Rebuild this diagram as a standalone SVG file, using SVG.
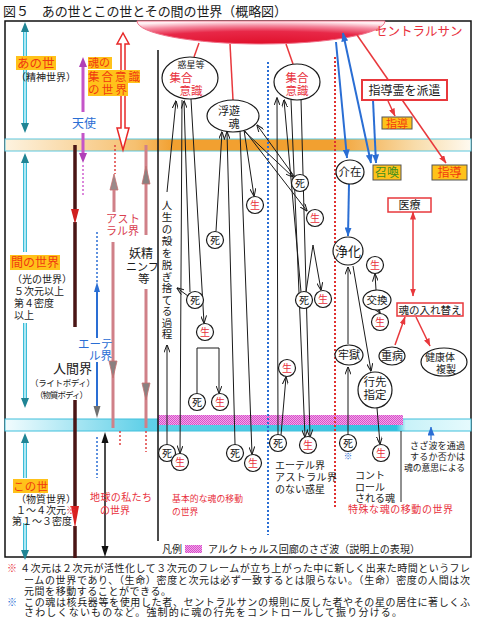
<svg xmlns="http://www.w3.org/2000/svg" width="480" height="618" viewBox="0 0 480 618">
<defs>
<style>
text{font-family:"Noto Sans CJK JP","Noto Sans CJK SC",sans-serif;fill:#1a1a1a}
.lbl{fill:#f03a10}
.hl{fill:#ffc21a}
.red{fill:#e8303c}
.blu{fill:#2a6ed4}
.c{text-anchor:middle}
.ln{stroke:#1a1a1a;stroke-width:1;fill:none}
.rl{stroke:#e8383c;stroke-width:1.5;fill:none}
.bl{stroke:#2a6ed4;stroke-width:2;fill:none}
.nd{fill:#fff;stroke:#1a1a1a;stroke-width:1.2}
.rb{fill:#fff;stroke:#e8383c;stroke-width:2}
.yb{fill:#ffc21a;stroke:#555;stroke-width:1}
.rdot{stroke:#e03030;stroke-width:2;stroke-dasharray:2 2;fill:none}
.bdot{stroke:#2a6ed4;stroke-width:2;stroke-dasharray:2 2;fill:none}
</style>
<radialGradient id="sunG" cx="0.5" cy="1" r="1" fx="0.5" fy="1">
<stop offset="0" stop-color="#e0102a"/>
<stop offset="0.55" stop-color="#e82848"/>
<stop offset="0.8" stop-color="#f48aa0"/>
<stop offset="1" stop-color="#fff0f3"/>
</radialGradient>
<linearGradient id="orG" x1="0" y1="0" x2="1" y2="0">
<stop offset="0" stop-color="#fdf3e0"/>
<stop offset="0.28" stop-color="#f6c070"/>
<stop offset="0.36" stop-color="#f2a030"/>
<stop offset="0.7" stop-color="#f2a030"/>
<stop offset="0.88" stop-color="#f8dcaa"/>
<stop offset="1" stop-color="#fffaf0"/>
</linearGradient>
<linearGradient id="cyG" x1="0" y1="0" x2="1" y2="0">
<stop offset="0" stop-color="#f2fcfe"/>
<stop offset="0.3" stop-color="#60d0e8"/>
<stop offset="0.84" stop-color="#30c0e0"/>
<stop offset="0.86" stop-color="#c8f2f8"/>
<stop offset="1" stop-color="#e6fafd"/>
</linearGradient>
<pattern id="chk" width="2" height="2" patternUnits="userSpaceOnUse">
<rect width="2" height="2" fill="#f3a6ea"/>
<rect width="1" height="1" fill="#d64fc8"/>
<rect x="1" y="1" width="1" height="1" fill="#d64fc8"/>
</pattern>
<marker id="ah" viewBox="0 0 8 6" refX="7.5" refY="3" markerWidth="8" markerHeight="6" markerUnits="userSpaceOnUse" orient="auto-start-reverse">
<path d="M0,0 L8,3 L0,6" fill="none" stroke="#1a1a1a" stroke-width="1"/>
</marker>
<marker id="rh" viewBox="0 0 8 6" refX="7.5" refY="3" markerWidth="8" markerHeight="6" markerUnits="userSpaceOnUse" orient="auto-start-reverse">
<path d="M0,0 L8,3 L0,6 Z" fill="#e8383c"/>
</marker>
<marker id="bh" viewBox="0 0 9 7" refX="8.5" refY="3.5" markerWidth="9" markerHeight="7" markerUnits="userSpaceOnUse" orient="auto-start-reverse">
<path d="M0,0 L9,3.5 L0,7 Z" fill="#2a6ed4"/>
</marker>
</defs>

<rect width="480" height="618" fill="#fff"/>

<text x="3" y="16" font-size="13" textLength="284">図５　あの世とこの世とその間の世界（概略図）</text>

<rect id="frame" x="5" y="21" width="466" height="536" fill="none" stroke="#111" stroke-width="1.5"/>

<g id="bands">
<rect x="5" y="139" width="466" height="12" fill="url(#orG)" stroke="#5cc8e0" stroke-width="1"/>
<rect x="5" y="419" width="466" height="12" fill="url(#cyG)" stroke="#40c0dc" stroke-width="1"/>
<rect x="158" y="415" width="245" height="10" fill="url(#chk)"/>
</g>

<g id="central-sun">
<path d="M137,21 A124,23 0 0 0 385,21 Z" fill="url(#sunG)" stroke="#f07088" stroke-width="1"/>
<text x="375" y="36" font-size="12.5" class="red">セントラルサン</text>
</g>

<g id="dividers">
<path d="M158,50 V541" stroke="#111" stroke-width="1.5"/>
<path d="M268,62 V535" class="bdot"/>
<path d="M335,57 V508" class="rdot"/>
<path d="M401,431 V502" stroke="#222" stroke-width="1"/>
</g>

<g id="left-arrows">
<path d="M25,30 V124 M25,163 V252 M25,323 V398 M25,443 V478 M25,523 V550" stroke="#3cbcd8" stroke-width="4"/>
<path d="M25,30 V124 M25,163 V252 M25,323 V398 M25,443 V478 M25,523 V550" stroke="#d4f6fb" stroke-width="1.5"/>
<g fill="#1f8494">
<polygon points="25,22 21,32 29,32"/>
<polygon points="25,133 21,123 29,123"/>
<polygon points="25,153 21,163 29,163"/>
<polygon points="25,408 21,398 29,398"/>
<polygon points="25,433 21,443 29,443"/>
<polygon points="25,560 21,550 29,550"/>
</g>
<path d="M83,66 V112 M83,133 V153" stroke="#c455c8" stroke-width="3"/>
<polygon points="83,57 79,67 87,67" fill="#b040b8"/>
<polygon points="83,163 79,153 87,153" fill="#b040b8"/>
<path d="M83,165 V196" stroke="#d060d0" stroke-width="1.5" stroke-dasharray="2 2"/>
<path d="M75,145 V212 M75,222 V327 M75,400 V508 M75,526 V558" stroke="#4a1515" stroke-width="3.5"/>
<polygon points="75,224 71,209 79,209" fill="#d02020"/>
<polygon points="75,528 71,506 79,506" fill="#d82020"/>
<polygon points="123,33 117,44 121,44 121,128 117,128 123,150 129,128 125,128 125,44 129,44" fill="#fff" stroke="#e82828" stroke-width="1.5"/>
<path d="M115,145 V174" stroke="#e04040" stroke-width="1.5" stroke-dasharray="2 2"/>
<polygon points="114,174 110,190 118,190" fill="#9a8a8a" stroke="#c87070" stroke-width="0.8"/>
<path d="M114,190 V212 M113,242 V428" stroke="#d08088" stroke-width="3"/>
<polygon points="113,378 109,361 117,361" fill="#8a8080" stroke="#c87070" stroke-width="0.8"/>
<path d="M120,431 V447" stroke="#e04040" stroke-width="1.5" stroke-dasharray="2 2"/>
<path d="M146,145 V235 M146,289 V428" stroke="#d08088" stroke-width="3"/>
<polygon points="146,166 142,184 150,184" fill="#8a8080" stroke="#c87070" stroke-width="0.8"/>
<polygon points="146,400 142,383 150,383" fill="#8a8080" stroke="#c87070" stroke-width="0.8"/>
<path d="M146,431 V452" stroke="#e04040" stroke-width="1.5" stroke-dasharray="2 2"/>
<path d="M97,232 V282 M97,437 V478" stroke="#2a6ed4" stroke-width="1.5" stroke-dasharray="2 2"/>
<polygon points="97,282 94,292 100,292" fill="#2a6ed4"/>
<path d="M97,292 V338 M97,362 V408" stroke="#2a6ed4" stroke-width="2"/>
<polygon points="97,418 93.5,406 100.5,406" fill="#707070"/>
<path d="M105,442 V547" stroke="#111" stroke-width="1.5"/>
<polygon points="105,432 101.5,443 108.5,443" fill="#111"/>
<polygon points="105,557 101.5,546 108.5,546" fill="#111"/>
</g>

<g id="connectors">
<g class="rl">
<path d="M199,43 L194,57"/>
<path d="M230,44 L233,100"/>
<path d="M286,44 L293,64"/>
<path d="M357,35 L446,163" marker-end="url(#rh)"/>
<path d="M388,101 L395,116" marker-end="url(#rh)"/>
<path d="M413,212 L413,296" marker-start="url(#rh)" marker-end="url(#rh)"/>
<path d="M395,345 L405,317" marker-end="url(#rh)"/>
<path d="M416,317 L430,346" marker-end="url(#rh)"/>
</g>
<g class="bl">
<path d="M336,42 L347,158" marker-end="url(#bh)"/>
<path d="M343,33 L371,163" marker-start="url(#bh)" marker-end="url(#bh)"/>
<path d="M373,100 L376,163" marker-end="url(#bh)"/>
<path d="M349,184 L348,236" marker-end="url(#bh)"/>
<path d="M431,440 L431,427" stroke-width="1.2" marker-end="url(#bh)"/>
</g>
<g class="ln" marker-end="url(#ah)">
<path d="M167,192 L176,101"/>
<path d="M190,292 L184,101"/>
<path d="M182,100 L180,453"/>
<path d="M191,99 L204,323"/>
<path d="M188,296 L177,288"/>
<path d="M197,393 L197,348 L219,348 L219,393"/>
<path d="M167,444 L167,345"/>
<path d="M216,231 L222,132"/>
<path d="M235,444 L227,132"/>
<path d="M240,131 L252,454"/>
<path d="M244,130 L254,196"/>
<path d="M243,130 L293,177"/>
<path d="M245,131 L307,211"/>
<path d="M294,176 L257,125"/>
<path d="M278,434 L277,98"/>
<path d="M281,435 L286,377"/>
<path d="M291,100 L305,437"/>
<path d="M301,99 L310,437"/>
<path d="M301,292 L284,100"/>
<path d="M306,292 L313,245 L321,290"/>
<path d="M348,344 L348,267"/>
<path d="M353,266 L371,371"/>
<path d="M348,434 L348,367"/>
<path d="M377,408 L380,444"/>
<path d="M376,290 L375,274"/>
<path d="M378,310 L380,313"/>
</g>
</g>

<g id="left-labels">
<rect x="16" y="56" width="40" height="14" class="hl"/>
<text x="17" y="68" font-size="12.5" class="lbl">あの世</text>
<text x="16" y="81" font-size="10">（精神世界）</text>
<rect x="88" y="57" width="24" height="12" class="hl"/>
<rect x="88" y="70" width="52" height="13" class="hl"/>
<rect x="88" y="83" width="40" height="13" class="hl"/>
<text x="88" y="67" font-size="11" class="lbl">魂の</text>
<text x="88" y="80.5" font-size="11.5" class="lbl" textLength="52">集合意識</text>
<text x="88" y="93.5" font-size="11.5" class="lbl" textLength="39">の世界</text>
<text x="72" y="128" font-size="12" class="blu">天使</text>
<text x="106" y="223" font-size="11" style="fill:#d84050" textLength="34">アスト</text>
<text x="106" y="235" font-size="11" style="fill:#d84050" textLength="33">ラル界</text>
<text x="129" y="258" font-size="12">妖精</text>
<text x="126" y="271" font-size="11">ニンフ</text>
<text x="138" y="283" font-size="11.5">等</text>
<rect x="10" y="255" width="50" height="15" class="hl"/>
<text x="11" y="267" font-size="12" class="lbl" textLength="48">間の世界</text>
<text x="12" y="283" font-size="10">（光の世界）</text>
<text x="14" y="295" font-size="10">５次元以上</text>
<text x="14" y="307" font-size="10">第４密度</text>
<text x="14" y="319" font-size="10">以上</text>
<text x="78" y="348" font-size="11.5" class="blu">エーテ</text>
<text x="89" y="360" font-size="11.5" class="blu">ル界</text>
<text x="53" y="373" font-size="13">人間界</text>
<text x="30" y="386" font-size="8.5" textLength="65">（ライトボディ）</text>
<text x="35" y="398" font-size="8.5" textLength="53">（物質ボディ）</text>
<rect x="13" y="479" width="35" height="14" class="hl"/>
<text x="13" y="491" font-size="11.5" class="lbl" textLength="35">この世</text>
<text x="16" y="503" font-size="10">（物質世界）</text>
<text x="16" y="514" font-size="10">１～４次元<tspan class="red">※</tspan></text>
<text x="12" y="525" font-size="10">第１～３密度</text>
<text x="90" y="501" font-size="10" class="red" textLength="62">地球の私たち</text>
<text x="100" y="514" font-size="10" class="red">の世界</text>
</g>

<g id="process-text" font-size="10.5">
<text x="167" y="209" class="c">人</text>
<text x="167" y="221" class="c">生</text>
<text x="167" y="233" class="c">の</text>
<text x="167" y="245" class="c">殻</text>
<text x="167" y="257" class="c">を</text>
<text x="167" y="269" class="c">脱</text>
<text x="167" y="281" class="c">ぎ</text>
<text x="167" y="292" class="c">捨</text>
<text x="167" y="304" class="c">て</text>
<text x="167" y="315" class="c">る</text>
<text x="167" y="327" class="c">過</text>
<text x="167" y="338" class="c">程</text>
</g>

<g id="planet-collective">
<ellipse cx="190" cy="78" rx="28" ry="21" class="nd"/>
<text x="191" y="68" font-size="9" class="c">惑星等</text>
<text x="181" y="81.5" font-size="11.5" class="c red">集合</text>
<text x="191" y="94.5" font-size="11.5" class="c red">意識</text>
</g>
<g id="floating-soul">
<ellipse cx="233" cy="116" rx="26" ry="16" class="nd"/>
<text x="229" y="115" font-size="11" class="c">浮遊</text>
<text x="234" y="127.5" font-size="11" class="c">魂</text>
</g>
<g id="collective-right">
<ellipse cx="297" cy="82" rx="23" ry="18" class="nd"/>
<text x="297" y="81.5" font-size="11.5" class="c red">集合</text>
<text x="297" y="94.5" font-size="11.5" class="c red">意識</text>
</g>
<g id="guide-dispatch">
<rect x="362" y="80" width="85" height="20" class="rb"/>
<text x="404.5" y="95" font-size="12" class="c">指導霊を派遣</text>
</g>
<g id="guide-1">
<rect x="382" y="117" width="30" height="12" class="yb"/>
<text x="397" y="127.5" font-size="11" class="c lbl">指導</text>
</g>
<g id="guide-2">
<rect x="432" y="165" width="35" height="15" class="yb"/>
<text x="449.5" y="177" font-size="12" class="c lbl">指導</text>
</g>
<g id="summon">
<rect x="373" y="165" width="28" height="15" class="yb"/>
<text x="387" y="177" font-size="12" class="c" style="fill:#3f8f1f">召喚</text>
</g>
<g id="intervene">
<ellipse cx="350" cy="172" rx="14" ry="12" class="nd"/>
<text x="350" y="176" font-size="11.5" class="c">介在</text>
</g>
<g id="medical">
<rect x="388" y="198" width="43" height="14" fill="#fff" stroke="#e8383c" stroke-width="1.5"/>
<text x="409.5" y="209" font-size="11" class="c">医療</text>
</g>
<g id="purify">
<ellipse cx="348" cy="251" rx="15" ry="14" class="nd"/>
<text x="348" y="256" font-size="13" class="c">浄化</text>
</g>
<g id="exchange">
<ellipse cx="377" cy="300" rx="14" ry="10" class="nd"/>
<text x="377" y="304" font-size="10.5" class="c">交換</text>
</g>
<g id="soul-swap">
<rect x="397" y="303" width="66" height="13" fill="#fff" stroke="#e8383c" stroke-width="1.5"/>
<text x="430" y="313.5" font-size="10.5" class="c">魂の入れ替え</text>
</g>
<g id="prison">
<ellipse cx="349" cy="355" rx="14" ry="10" class="nd"/>
<text x="349" y="359" font-size="11" class="c">牢獄</text>
</g>
<g id="illness">
<ellipse cx="392" cy="356" rx="13" ry="9" class="nd"/>
<text x="392" y="360" font-size="11" class="c">重病</text>
</g>
<g id="healthy-copy">
<ellipse cx="444" cy="362" rx="23" ry="14" class="nd"/>
<text x="440" y="360.5" font-size="10" class="c">健康体</text>
<text x="446" y="372.5" font-size="10" class="c">複製</text>
</g>
<g id="destination">
<ellipse cx="375" cy="390" rx="17" ry="18" class="nd"/>
<text x="375" y="386" font-size="11.5" class="c">行先</text>
<text x="375" y="399" font-size="11.5" class="c">指定</text>
</g>

<g id="death-nodes" font-size="10">
<g id="d1"><circle cx="300" cy="183" r="8.5" class="nd"/><text x="300" y="186.5" class="c">死</text></g>
<g id="d2"><circle cx="215" cy="240" r="8.5" class="nd"/><text x="215" y="243.5" class="c">死</text></g>
<g id="d3"><circle cx="195" cy="300" r="8.5" class="nd"/><text x="195" y="303.5" class="c">死</text></g>
<g id="d4"><circle cx="304" cy="300" r="8.5" class="nd"/><text x="304" y="303.5" class="c">死</text></g>
<g id="d5"><circle cx="197" cy="402" r="8.5" class="nd"/><text x="197" y="405.5" class="c">死</text></g>
<g id="d6"><circle cx="167" cy="453" r="8.5" class="nd"/><text x="167" y="456.5" class="c">死</text></g>
<g id="d7"><circle cx="235" cy="453" r="8.5" class="nd"/><text x="235" y="456.5" class="c">死</text></g>
<g id="d8"><circle cx="278" cy="443" r="8.5" class="nd"/><text x="278" y="446.5" class="c">死</text></g>
<g id="d9"><circle cx="348" cy="443" r="8.5" class="nd"/><text x="348" y="446.5" class="c">死</text><text x="348" y="459" font-size="8.5" class="c blu">※</text></g>
</g>
<g id="birth-nodes" font-size="10">
<g id="b1"><circle cx="255" cy="205" r="8.5" class="nd"/><text x="255" y="208.5" class="c red">生</text></g>
<g id="b2"><circle cx="315" cy="218" r="8.5" class="nd"/><text x="315" y="221.5" class="c red">生</text></g>
<g id="b3"><circle cx="323" cy="299" r="8.5" class="nd"/><text x="323" y="302.5" class="c red">生</text></g>
<g id="b4"><circle cx="205" cy="332" r="8.5" class="nd"/><text x="205" y="335.5" class="c red">生</text></g>
<g id="b5"><circle cx="220" cy="402" r="8.5" class="nd"/><text x="220" y="405.5" class="c red">生</text></g>
<g id="b6"><circle cx="180" cy="462" r="8.5" class="nd"/><text x="180" y="465.5" class="c red">生</text></g>
<g id="b7"><circle cx="253" cy="463" r="8.5" class="nd"/><text x="253" y="466.5" class="c red">生</text></g>
<g id="b8"><circle cx="287" cy="368" r="8.5" class="nd"/><text x="287" y="371.5" class="c red">生</text></g>
<g id="b9"><circle cx="308" cy="445" r="8.5" class="nd"/><text x="308" y="448.5" class="c red">生</text></g>
<g id="b10"><circle cx="375" cy="265" r="8.5" class="nd"/><text x="375" y="268.5" class="c red">生</text></g>
<g id="b11"><circle cx="380" cy="322" r="8.5" class="nd"/><text x="380" y="325.5" class="c red">生</text></g>
<g id="b12"><circle cx="381" cy="453" r="8.5" class="nd"/><text x="381" y="456.5" class="c red">生</text></g>
</g>

<g id="bottom-labels">
<text x="275" y="469" font-size="10">エーテル界</text>
<text x="275" y="481" font-size="10" textLength="62">アストラル界</text>
<text x="275" y="493" font-size="10">のない惑星</text>
<text x="355" y="479" font-size="10">コント</text>
<text x="355" y="491" font-size="10">ロール</text>
<text x="355" y="502" font-size="10" textLength="40">される魂</text>
<text x="348" y="513" font-size="10" class="red" textLength="105">特殊な魂の移動の世界</text>
<text x="172" y="502" font-size="8.8" class="red" textLength="71">基本的な魂の移動</text>
<text x="172" y="515" font-size="8.8" class="red">の世界</text>
<text x="410" y="449" font-size="9" textLength="55">さざ波を通過</text>
<text x="410" y="460" font-size="9" textLength="55">するか否かは</text>
<text x="404" y="471" font-size="8.8" textLength="61">魂の意思による</text>
</g>

<g id="legend">
<text x="162" y="553" font-size="10">凡例</text>
<rect x="185" y="545" width="17" height="8" fill="url(#chk)"/>
<text x="208" y="553" font-size="10" textLength="212">アルクトゥルス回廊のさざ波（説明上の表現）</text>
</g>

<g id="notes" font-size="10">
<text x="7" y="572" class="red">※</text>
<text x="20" y="572" textLength="450">４次元は２次元が活性化して３次元のフレームが立ち上がった中に新しく出来た時間というフレ</text>
<text x="24" y="584" textLength="446">ームの世界であり、（生命）密度と次元は必ず一致するとは限らない。（生命）密度の人間は次</text>
<text x="24" y="595" textLength="147">元間を移動することができる。</text>
<text x="7" y="606" class="blu">※</text>
<text x="24" y="606" textLength="446">この魂は核兵器等を使用した者、セントラルサンの規則に反した者やその星の居住に著しくふ</text>
<text x="24" y="616" textLength="378">さわしくないものなど。強制的に魂の行先をコントロールして振り分ける。</text>
</g>
</svg>
